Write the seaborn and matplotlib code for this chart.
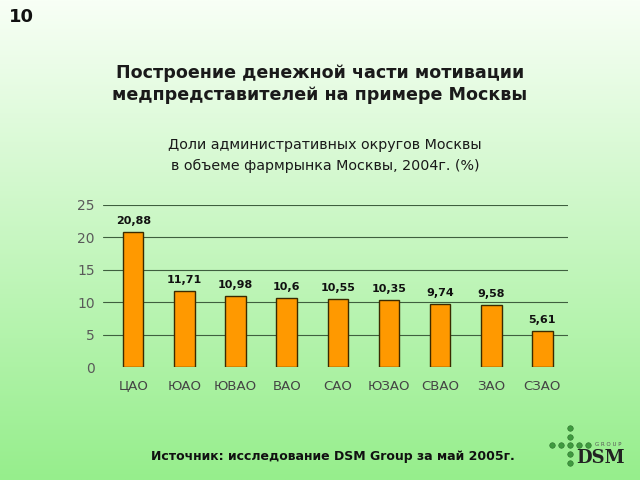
import numpy as np
import pandas as pd
import matplotlib
matplotlib.use("Agg")
import matplotlib.pyplot as plt
import seaborn as sns

categories = ["ЦАО", "ЮАО", "ЮВАО", "ВАО", "САО", "ЮЗАО", "СВАО", "ЗАО", "СЗАО"]
values = [20.88, 11.71, 10.98, 10.6, 10.55, 10.35, 9.74, 9.58, 5.61]
value_labels = ["20,88", "11,71", "10,98", "10,6", "10,55", "10,35", "9,74", "9,58", "5,61"]
y_ticks = [0, 5, 10, 15, 20, 25]

sns.set_style("white")
plt.rcParams['font.family'] = ['DejaVu Sans']

fig = plt.figure(figsize=(6.4, 4.8), dpi=100)

# gradient background
bg = fig.add_axes([0, 0, 1, 1], zorder=-10)
top = np.array([248, 255, 246]) / 255
bot = np.array([150, 238, 140]) / 255
t = np.linspace(0, 1, 256)[:, None]
grad = top[None, :] * (1 - t) + bot[None, :] * t
bg.imshow(np.repeat(grad[:, None, :], 4, axis=1), aspect="auto", extent=[0, 1, 0, 1])
bg.set_xlim(0, 1)
bg.set_ylim(0, 1)
bg.set_axis_off()

# logo dots (decorative)
vx = [570 / 640] * 5
vy = [1 - y / 480 for y in (428, 436.5, 445, 454, 463)]
hx = [x / 640 for x in (552, 561, 579, 588)]
hy = [1 - 445 / 480] * 4
bg.scatter(vx + hx, vy + hy, s=16, color="#3f9a3f", edgecolor="#2c6e2c", linewidth=0.4, zorder=2)

ax = fig.add_axes([0.161, 0.2354, 0.8875 - 0.161, 0.573 - 0.2354])
ax.patch.set_alpha(0)
df = pd.DataFrame({"cat": categories, "val": values})
sns.barplot(data=df, x="cat", y="val", color="#FF9900", width=0.4,
            edgecolor="#3a2a00", linewidth=1.0, saturation=1, ax=ax, zorder=3)

ax.set_ylim(0, 25)
ax.set_xlim(-0.59, 8.5)
ax.set_yticks(y_ticks)
ax.set_yticklabels([str(v) for v in y_ticks], fontsize=10, color="#5a5a5a")
ax.set_xticks(range(len(categories)))
ax.set_xticklabels(categories, fontsize=9.5, color="#444444")
ax.tick_params(axis="y", length=0, pad=6)
ax.tick_params(axis="x", length=0, pad=9)
ax.set_xlabel("")
ax.set_ylabel("")
for s in ax.spines.values():
    s.set_visible(False)
for yv in y_ticks[1:]:
    ax.axhline(yv, color="#3f5f3f", linewidth=0.8, zorder=1)

for i, (v, lab) in enumerate(zip(values, value_labels)):
    ax.text(i, v + 0.9, lab, ha="center", va="bottom", fontsize=8, fontweight="bold", color="#111111")

fig.text(0.014, 0.965, "10", fontsize=13, fontweight="bold", ha="left", va="center", color="#111111")
fig.text(0.5, 0.847, "Построение денежной части мотивации", fontsize=12.6, fontweight="bold",
         ha="center", va="center", color="#1a1a1a")
fig.text(0.5, 0.803, "медпредставителей на примере Москвы", fontsize=12.6, fontweight="bold",
         ha="center", va="center", color="#1a1a1a")
fig.text(0.508, 0.698, "Доли административных округов Москвы", fontsize=10.3,
         ha="center", va="center", color="#1a1a1a")
fig.text(0.508, 0.654, "в объеме фармрынка Москвы, 2004г. (%)", fontsize=10.3,
         ha="center", va="center", color="#1a1a1a")
fig.text(0.52, 0.048, "Источник: исследование DSM Group за май 2005г.", fontsize=9,
         fontweight="bold", ha="center", va="center", color="#111111")

# logo text
fig.text(576 / 640, 1 - 458 / 480, "DSM", fontsize=13, fontweight="bold", family="DejaVu Serif",
         ha="left", va="center", color="#222222")
fig.text(595 / 640, 1 - 445 / 480, "G R O U P", fontsize=4, ha="left", va="center", color="#555555")

fig.savefig("out.png", dpi=100)
